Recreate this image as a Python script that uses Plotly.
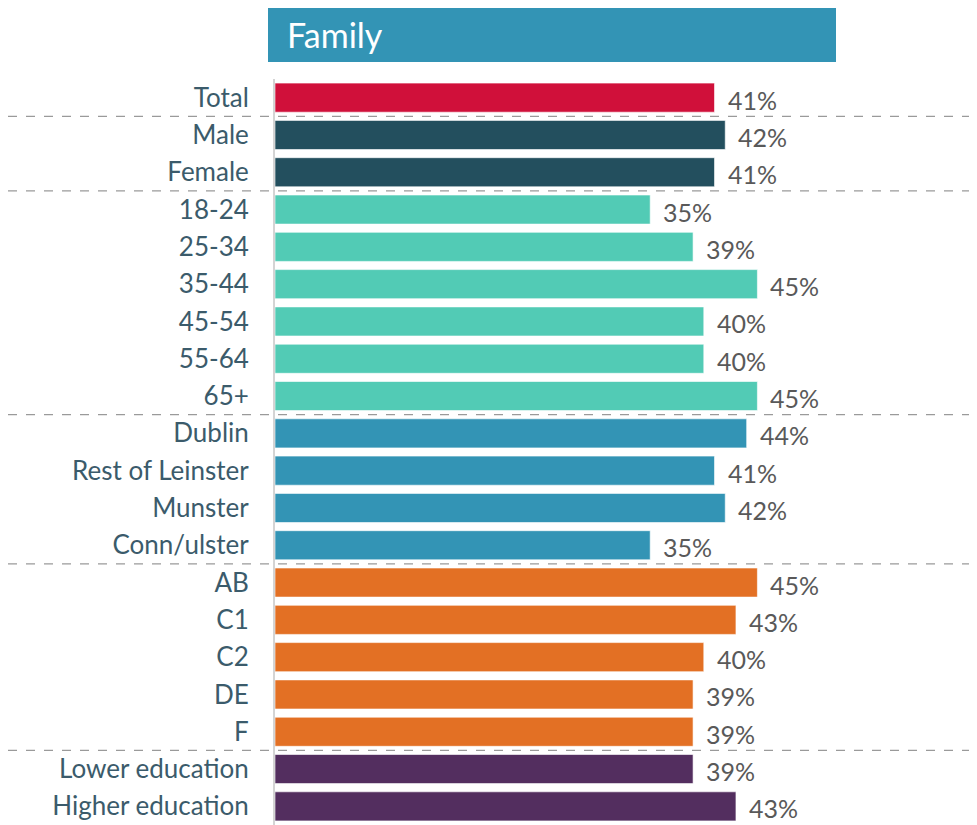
import plotly.graph_objects as go

categories = ["Total", "Male", "Female", "18-24", "25-34", "35-44", "45-54", "55-64", "65+",
              "Dublin", "Rest of Leinster", "Munster", "Conn/ulster",
              "AB", "C1", "C2", "DE", "F", "Lower education", "Higher education"]
values = [41, 42, 41, 35, 39, 45, 40, 40, 45, 44, 41, 42, 35, 45, 43, 40, 39, 39, 39, 43]
group_colors = ["#d0103a", "#234f5e", "#234f5e", "#52cbb5", "#52cbb5", "#52cbb5", "#52cbb5", "#52cbb5",
                "#52cbb5", "#3394b5", "#3394b5", "#3394b5", "#3394b5", "#e37024", "#e37024", "#e37024",
                "#e37024", "#e37024", "#532e5f", "#532e5f"]
separators_after = [0, 2, 8, 12, 17]
title_text = "Family"

FONT = "Lato"
OFF = 8  # page body margin
W, H = 977 - OFF, 825 - OFF
L, T = 275 - OFF, 79 - OFF
plot_w = W - L
plot_h = H - T

ypos = list(range(len(categories)))

fig = go.Figure()
fig.add_trace(go.Bar(
    x=values, y=ypos, orientation="h",
    marker=dict(color=group_colors, line=dict(color="rgba(255,255,255,0.6)", width=1)),
    width=0.78, hoverinfo="skip",
))

for v, y in zip(values, ypos):
    fig.add_annotation(x=v, y=y, text=f"{v}%", showarrow=False, xanchor="left",
                       xshift=11, yshift=-2, font=dict(family=FONT, size=25, color="#595959"))

for s in separators_after:
    fig.add_shape(type="line", xref="paper", yref="y", x0=-L / plot_w, x1=1,
                  y0=s + 0.5, y1=s + 0.5, line=dict(color="#9a9a9a", width=1.2, dash="dash"))

def px_x(p):
    return (p - OFF - L) / plot_w

def px_y(p):
    return (H - (p - OFF)) / plot_h

fig.add_shape(type="rect", xref="paper", yref="paper", x0=px_x(268), x1=px_x(836),
              y0=px_y(62), y1=px_y(6), fillcolor="#3394b5", line=dict(width=0), layer="above")
fig.add_annotation(xref="paper", yref="paper", x=px_x(285), y=px_y(34), text=title_text,
                   showarrow=False, xanchor="left", yanchor="middle",
                   font=dict(family=FONT, size=34, color="white"))

fig.update_layout(
    width=W, height=H, margin=dict(l=L, r=0, t=T, b=0),
    plot_bgcolor="white", paper_bgcolor="white", showlegend=False,
    xaxis=dict(range=[0, plot_w / 10.72], visible=False, fixedrange=True),
    yaxis=dict(range=[len(categories) - 0.5, -0.5], tickvals=ypos, ticktext=categories,
               showgrid=False, zeroline=False, showline=True, linecolor="#d4d4d4", linewidth=2,
               ticks="", ticklabelstandoff=19,
               tickfont=dict(family=FONT, size=26, color="#3b5b6b")),
)

fig.write_html("out.html")
